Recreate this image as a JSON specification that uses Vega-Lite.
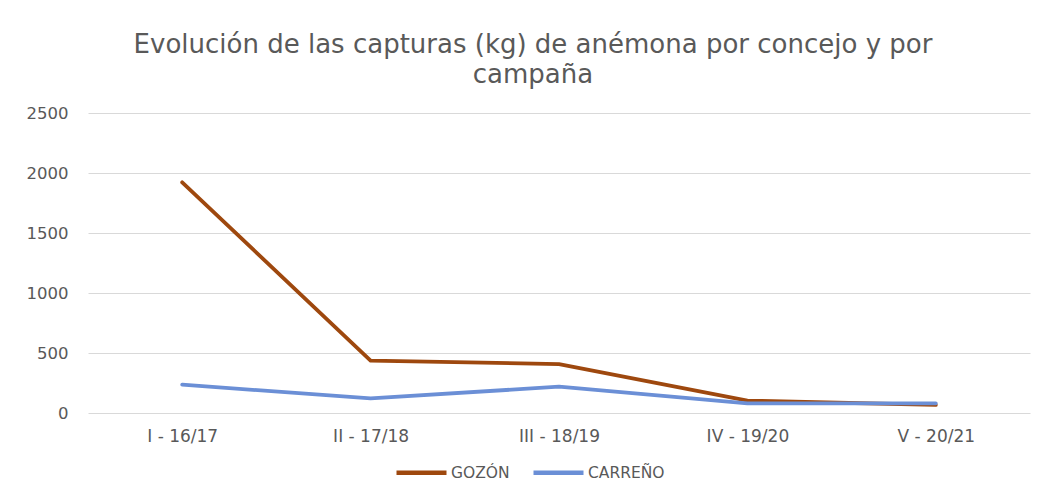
{
  "$schema": "https://vega.github.io/schema/vega-lite/v6.json",
  "width": 942,
  "height": 300,
  "autosize": {"type": "none"},
  "padding": {"left": 88, "top": 113, "right": 11, "bottom": 80},
  "background": "white",
  "title": {
    "text": ["Evolución de las capturas (kg) de anémona por concejo y por", "campaña"],
    "anchor": "middle",
    "dx": -26,
    "offset": 17,
    "font": "DejaVu Sans",
    "fontSize": 26,
    "fontWeight": "normal",
    "color": "#595959",
    "lineHeight": 30
  },
  "data": {
    "values": [
      {"campana": "I - 16/17", "concejo": "GOZÓN", "kg": 1922},
      {"campana": "II - 17/18", "concejo": "GOZÓN", "kg": 436},
      {"campana": "III - 18/19", "concejo": "GOZÓN", "kg": 408},
      {"campana": "IV - 19/20", "concejo": "GOZÓN", "kg": 103},
      {"campana": "V - 20/21", "concejo": "GOZÓN", "kg": 67},
      {"campana": "I - 16/17", "concejo": "CARREÑO", "kg": 236},
      {"campana": "II - 17/18", "concejo": "CARREÑO", "kg": 122},
      {"campana": "III - 18/19", "concejo": "CARREÑO", "kg": 219},
      {"campana": "IV - 19/20", "concejo": "CARREÑO", "kg": 81},
      {"campana": "V - 20/21", "concejo": "CARREÑO", "kg": 81}
    ]
  },
  "mark": {"type": "line", "strokeWidth": 3.8, "strokeCap": "round", "strokeJoin": "round"},
  "encoding": {
    "x": {
      "field": "campana",
      "type": "nominal",
      "sort": null,
      "scale": {"type": "point", "padding": 0.5},
      "axis": {
        "title": null,
        "labelAngle": 0,
        "ticks": false,
        "domain": false,
        "grid": false,
        "labelPadding": 15,
        "labelFont": "DejaVu Sans",
        "labelFontSize": 17,
        "labelColor": "#595959"
      }
    },
    "y": {
      "field": "kg",
      "type": "quantitative",
      "scale": {"domain": [0, 2500]},
      "axis": {
        "title": null,
        "values": [0, 500, 1000, 1500, 2000, 2500],
        "format": "d",
        "ticks": false,
        "domain": false,
        "grid": true,
        "gridColor": "#d9d9d9",
        "gridWidth": 1.2,
        "labelPadding": 20,
        "labelFont": "DejaVu Sans",
        "labelFontSize": 16.5,
        "labelColor": "#595959"
      }
    },
    "color": {
      "field": "concejo",
      "type": "nominal",
      "sort": ["GOZÓN", "CARREÑO"],
      "scale": {"domain": ["GOZÓN", "CARREÑO"], "range": ["#9e480e", "#6b8fd6"]},
      "legend": {
        "title": null,
        "orient": "none",
        "direction": "horizontal",
        "legendX": 306,
        "legendY": 332,
        "symbolType": "stroke",
        "symbolStrokeWidth": 4.5,
        "symbolSize": 2500,
        "labelFont": "DejaVu Sans",
        "labelFontSize": 15.5,
        "labelColor": "#595959",
        "labelOffset": 2,
        "columnPadding": 14
      }
    }
  },
  "config": {"view": {"stroke": null}}
}
